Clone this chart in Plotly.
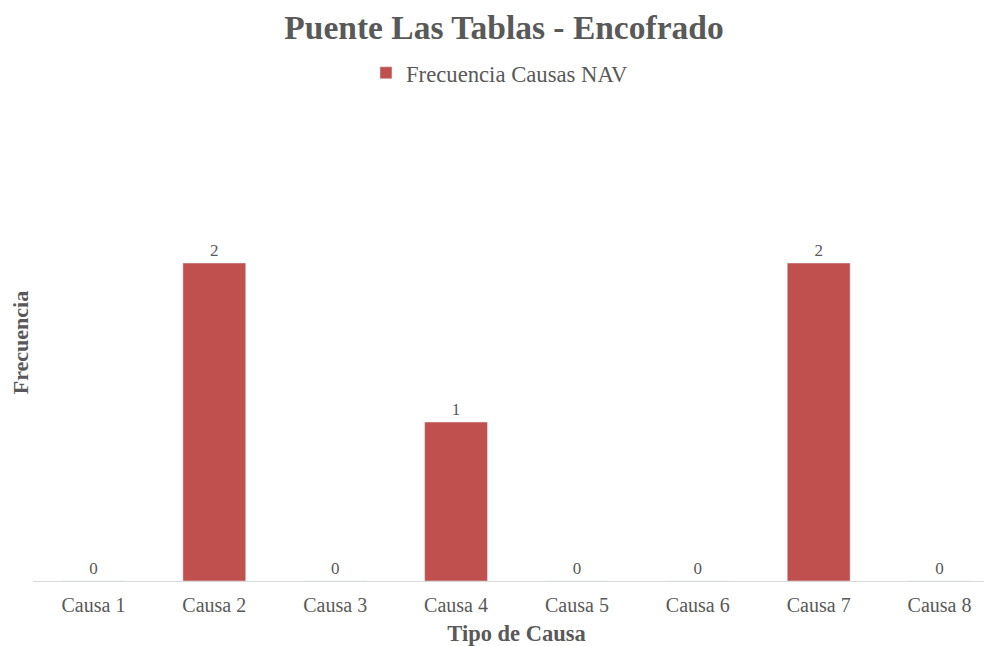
import plotly.graph_objects as go

categories = ["Causa 1", "Causa 2", "Causa 3", "Causa 4", "Causa 5", "Causa 6", "Causa 7", "Causa 8"]
values = [0, 2, 0, 1, 0, 0, 2, 0]
series_name = "Frecuencia Causas NAV"

FONT = "Liberation Serif, Times New Roman, serif"
GRAY = "#595959"

fig = go.Figure()
fig.add_trace(go.Bar(
    x=categories, y=values, name=series_name,
    marker=dict(color="#c0504d"),
    text=[str(v) for v in values], textposition="outside",
    textfont=dict(family=FONT, size=17, color=GRAY),
    cliponaxis=False,
))

fig.update_layout(
    width=992, height=646,
    paper_bgcolor="white", plot_bgcolor="white",
    margin=dict(l=25, r=0, t=96, b=73, pad=0),
    font=dict(family=FONT, color=GRAY),
    title=dict(text="<b>Puente Las Tablas - Encofrado</b>", x=0.5, xanchor="center",
               y=0.9706, yanchor="middle", font=dict(family=FONT, size=33.5, color=GRAY)),
    showlegend=True,
    legend=dict(orientation="h", x=0.4824, xanchor="center", y=1.065, yref="paper",
                yanchor="middle", font=dict(family=FONT, size=22.7, color=GRAY),
                itemwidth=30),
    bargap=0.48,
    xaxis=dict(range=[-0.5, 7.5], showline=True, linecolor="#d9d9d9", linewidth=1, ticks="",
               automargin=False, ticklabelstandoff=6,
               tickfont=dict(family=FONT, size=20, color=GRAY),
               title=dict(text="<b>Tipo de Causa</b>", font=dict(family=FONT, size=22.5, color=GRAY), standoff=10)),
    yaxis=dict(range=[0, 3], showgrid=False, zeroline=False, showticklabels=False, ticks="",
               automargin=False,
               title=dict(text="<b>Frecuencia</b>", font=dict(family=FONT, size=22, color=GRAY), standoff=0)),
)
fig.write_html("out.html")
